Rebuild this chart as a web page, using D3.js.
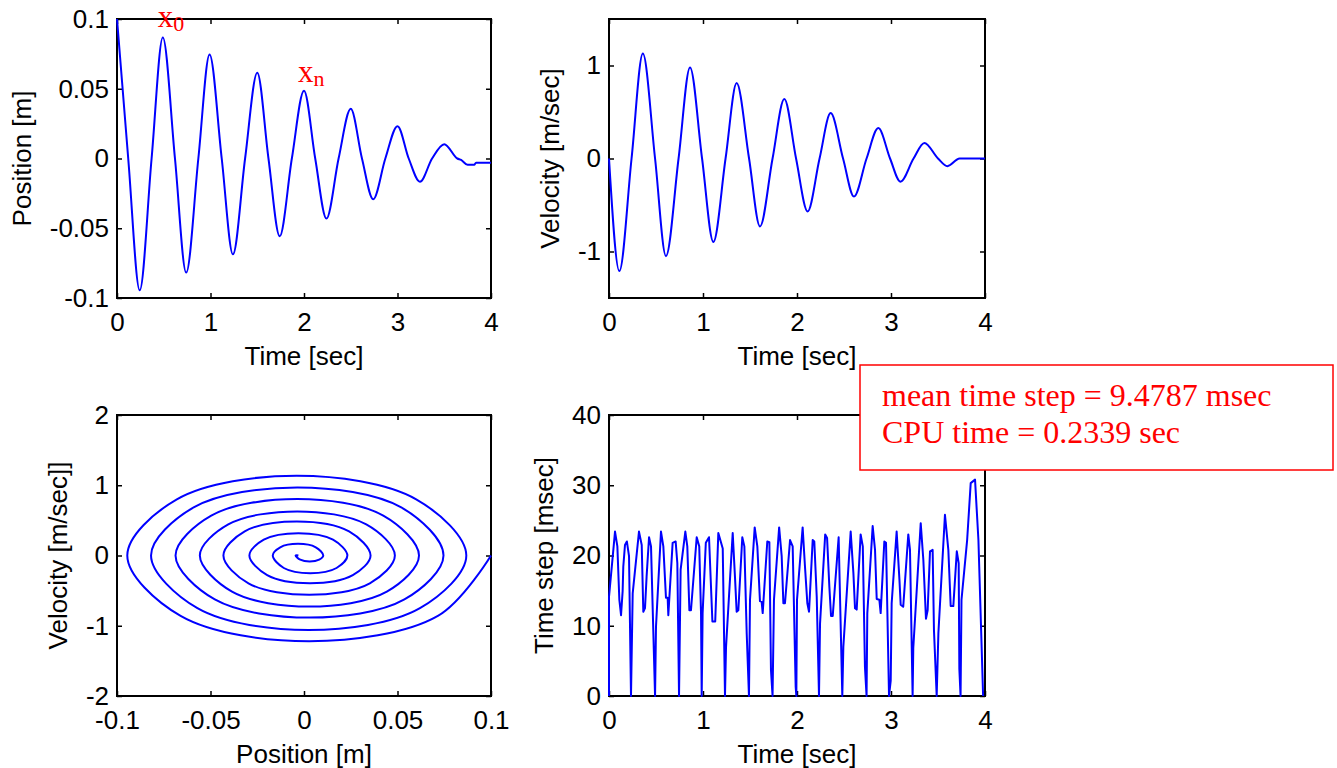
<!DOCTYPE html>
<html>
<head>
<meta charset="utf-8">
<script src="https://cdn.jsdelivr.net/npm/d3@7"></script>
<style>
  body { margin: 0; background: #fff; }
  .tick text { font-family: "Liberation Sans", Arial, sans-serif; font-size: 26px; fill: #000; }
  .tick line { stroke: #000; stroke-width: 1.5; }
  .title { font-family: "Liberation Sans", Arial, sans-serif; font-size: 26px; fill: #000; }
  .note { font-family: "Liberation Serif", "Times New Roman", serif; fill: #f00; }
</style>
</head>
<body>
<div id="chart"></div>
<script>
// position vs time (extrema and zero crossings)
var posTime = [0, 0.12, 0.243, 0.37, 0.49, 0.62, 0.74, 0.87, 0.99, 1.12, 1.24, 1.37, 1.5, 1.62, 1.74, 1.87,
  2.0, 2.12, 2.24, 2.37, 2.5, 2.62, 2.74, 2.87, 3.0, 3.12, 3.24, 3.37, 3.5, 3.64, 3.68, 3.75, 3.82, 3.84, 4.0];
var posVal = [0.1, 0, -0.0945, 0, 0.0868, 0, -0.0818, 0, 0.0746, 0, -0.0687, 0, 0.0615, 0, -0.0557, 0,
  0.0486, 0, -0.0431, 0, 0.0356, 0, -0.0292, 0, 0.0232, 0, -0.0167, 0, 0.0103, 0, -0.001, -0.0045, -0.0045, -0.003, -0.003];

// velocity vs time
var velTime = [0, 0.11, 0.24, 0.36, 0.49, 0.606, 0.74, 0.862, 0.99, 1.11, 1.24, 1.358, 1.49, 1.606, 1.74, 1.865,
  1.99, 2.113, 2.24, 2.358, 2.49, 2.606, 2.74, 2.865, 2.99, 3.10, 3.24, 3.355, 3.5, 3.60, 3.73, 4.0];
var velVal = [0, -1.21, 0, 1.128, 0, -1.05, 0, 0.979, 0, -0.897, 0, 0.811, 0, -0.73, 0, 0.64,
  0, -0.569, 0, 0.488, 0, -0.409, 0, 0.327, 0, -0.249, 0, 0.167, 0, -0.082, 0, 0];

// phase plane spiral (position, velocity)
var phasePos = [0.1, 0.0716, 0.0028, -0.066, -0.0945, -0.068, -0.0039, 0.060, 0.0868,
  0.062, 0.0025, -0.057, -0.0818, -0.059, -0.0036, 0.052, 0.0746,
  0.0537, 0.003, -0.0477, -0.0687, -0.0496, -0.0036, 0.0424, 0.0615,
  0.0443, 0.0029, -0.0385, -0.0557, -0.0405, -0.0036, 0.0333, 0.0486,
  0.0352, 0.0028, -0.0297, -0.0431, -0.0317, -0.0038, 0.0241, 0.0356,
  0.0261, 0.0032, -0.0197, -0.0292, -0.0215, -0.003, 0.0155, 0.0232,
  0.0174, 0.0033, -0.0108, -0.0167, -0.0127, -0.0032, 0.0063, 0.0103,
  0.0081, 0.003, -0.002, -0.0045, -0.003];
var phaseVel = [0, -0.86, -1.22, -0.86, 0, 0.80, 1.135, 0.80, 0,
  -0.75, -1.06, -0.75, 0, 0.685, 0.969, 0.685, 0,
  -0.625, -0.884, -0.625, 0, 0.568, 0.803, 0.568, 0,
  -0.514, -0.727, -0.514, 0, 0.443, 0.627, 0.443, 0,
  -0.396, -0.56, -0.396, 0, 0.343, 0.485, 0.343, 0,
  -0.279, -0.394, -0.279, 0, 0.225, 0.318, 0.225, 0,
  -0.178, -0.252, -0.178, 0, 0.117, 0.166, 0.117, 0,
  -0.06, -0.086, -0.06, 0, 0];

// solver time step vs time
var stepTime = [0, 0, 0.064, 0.089, 0.11, 0.128, 0.145, 0.152, 0.17, 0.19,
  0.213, 0.234, 0.252, 0.319, 0.348, 0.365, 0.383, 0.40, 0.426, 0.447,
  0.49, 0.50, 0.553, 0.578, 0.606, 0.624, 0.631, 0.677, 0.709, 0.727,
  0.745, 0.762, 0.812, 0.833, 0.855, 0.872, 0.933, 0.96, 0.979, 0.986,
  0.996, 1.03, 1.064, 1.10, 1.13, 1.163, 1.21, 1.234, 1.245, 1.316,
  1.34, 1.358, 1.376, 1.418, 1.44, 1.465, 1.489, 1.50, 1.55, 1.578,
  1.606, 1.624, 1.635, 1.684, 1.706, 1.723, 1.74, 1.755, 1.81, 1.837,
  1.855, 1.872, 1.926, 1.954, 1.986, 1.993, 2.0, 2.06, 2.085, 2.11,
  2.128, 2.167, 2.184, 2.21, 2.234, 2.245, 2.30, 2.32, 2.344, 2.362,
  2.38, 2.443, 2.482, 2.493, 2.571, 2.60, 2.617, 2.635, 2.677, 2.70,
  2.723, 2.74, 2.748, 2.805, 2.83, 2.848, 2.876, 2.89, 2.929, 2.947,
  2.979, 2.997, 3.007, 3.06, 3.09, 3.103, 3.13, 3.184, 3.202, 3.23,
  3.237, 3.316, 3.344, 3.372, 3.39, 3.415, 3.443, 3.457, 3.486, 3.504,
  3.574, 3.61, 3.635, 3.663, 3.70, 3.72, 3.727, 3.74, 3.75, 3.81,
  3.848, 3.894, 3.93, 3.98];
var stepMs = [0, 14.1, 23.4, 21.3, 13.7, 11.5, 14.9, 18.4, 21.5, 22,
  19.9, 0, 14.6, 23.4, 21.5, 12, 12.5, 17, 22.6, 21.3,
  0, 9.9, 23.4, 21.3, 14, 14, 11.5, 21.8, 22, 18.9,
  0, 18, 23.4, 21.3, 12.2, 12.2, 22.6, 21.3, 11.8, 0,
  11.8, 21.8, 22.6, 10.6, 10.6, 23.2, 21, 0, 7, 23.2,
  17, 12, 12.2, 22.6, 21.3, 8.9, 0, 13.7, 24, 21.3,
  13.5, 13.4, 11.8, 22, 21.9, 3.7, 0, 13.7, 24, 19.9,
  13.2, 13.2, 22.2, 21.3, 1.3, 0, 13.7, 24, 18.4, 13.2,
  12, 22.2, 22, 14.1, 0, 10.3, 23, 22.5, 15.6, 11.4,
  11.4, 22.6, 0, 7, 23.4, 17.5, 12.5, 12.3, 23, 21.3,
  4.1, 0, 11.8, 24.2, 20.8, 13.8, 13.7, 11.8, 22, 21.8,
  0, 2.2, 13.2, 23.4, 16.5, 13, 12.7, 23, 20.8, 0,
  6.8, 24.6, 19.4, 11, 12.2, 20.6, 20.8, 9.4, 0, 8.9,
  25.8, 20.8, 12.8, 12.8, 20.6, 18.9, 3.9, 0, 13.7, 22.2,
  30.3, 30.8, 22.2, 0];

var timeTicks = [0, 1, 2, 3, 4];
var posTicks = [-0.1, -0.05, 0, 0.05, 0.1];
var velTicks = [-1, 0, 1];
var phaseVelTicks = [-2, -1, 0, 1, 2];
var stepTicks = [0, 10, 20, 30, 40];

var peakLabels = [{t: 0.5, v: 0.087, sub: "0"}, {t: 2.0, v: 0.048, sub: "n"}];
var noteLines = ["mean time step = 9.4787 msec", "CPU time = 0.2339 sec"];

var svg = d3.select("#chart").append("svg").attr("width", 1337).attr("height", 768);
svg.append("rect").attr("width", 1337).attr("height", 768).attr("fill", "#fff");

// one MATLAB-like axes box with inward ticks on all four sides
function panel(o) {
  var x = d3.scaleLinear().domain(o.xd).range([o.left, o.right]);
  var y = d3.scaleLinear().domain(o.yd).range([o.bottom, o.top]);
  var fmt = function(d) { return String(d); };
  var g = svg.append("g");

  g.append("g").attr("transform", "translate(0," + o.bottom + ")")
    .call(d3.axisBottom(x).tickValues(o.xt).tickFormat(fmt).tickSize(-5).tickPadding(15));
  g.append("g").attr("transform", "translate(0," + o.top + ")")
    .call(d3.axisTop(x).tickValues(o.xt).tickFormat("").tickSize(-5));
  g.append("g").attr("transform", "translate(" + o.left + ",0)")
    .call(d3.axisLeft(y).tickValues(o.yt).tickFormat(fmt).tickSize(-5).tickPadding(8));
  g.append("g").attr("transform", "translate(" + o.right + ",0)")
    .call(d3.axisRight(y).tickValues(o.yt).tickFormat("").tickSize(-5));
  g.selectAll(".domain").remove();

  g.append("rect")
    .attr("x", o.left).attr("y", o.top)
    .attr("width", o.right - o.left).attr("height", o.bottom - o.top)
    .attr("fill", "none").attr("stroke", "#000").attr("stroke-width", 2);

  g.append("text").attr("class", "title")
    .attr("x", (o.left + o.right) / 2).attr("y", o.bottom + 67)
    .attr("text-anchor", "middle").text(o.xlabel);
  g.append("text").attr("class", "title")
    .attr("transform", "translate(" + o.ylx + "," + (o.top + o.bottom) / 2 + ") rotate(-90)")
    .attr("text-anchor", "middle").text(o.ylabel);

  var line = d3.line().x(function(d) { return x(d[0]); }).y(function(d) { return y(d[1]); })
    .curve(o.curve || d3.curveLinear);
  g.append("path").datum(d3.zip(o.xs, o.ys))
    .attr("d", line).attr("fill", "none")
    .attr("stroke", "#0000ff").attr("stroke-width", 2).attr("stroke-linejoin", "round");

  return {x: x, y: y, g: g};
}

var p1 = panel({left: 117, right: 491, top: 19, bottom: 298, xd: [0, 4], yd: [-0.1, 0.1],
  xt: timeTicks, yt: posTicks, xs: posTime, ys: posVal, curve: d3.curveMonotoneX,
  xlabel: "Time [sec]", ylabel: "Position [m]", ylx: 31});

panel({left: 609, right: 985, top: 19, bottom: 298, xd: [0, 4], yd: [-1.5, 1.5],
  xt: timeTicks, yt: velTicks, xs: velTime, ys: velVal, curve: d3.curveMonotoneX,
  xlabel: "Time [sec]", ylabel: "Velocity [m/sec]", ylx: 559});

panel({left: 117, right: 491, top: 415, bottom: 696, xd: [-0.1, 0.1], yd: [-2, 2],
  xt: posTicks, yt: phaseVelTicks, xs: phasePos, ys: phaseVel, curve: d3.curveCatmullRom.alpha(0.5),
  xlabel: "Position [m]", ylabel: "Velocity [m/sec]]", ylx: 67});

panel({left: 609, right: 985, top: 415, bottom: 696, xd: [0, 4], yd: [0, 40],
  xt: timeTicks, yt: stepTicks, xs: stepTime, ys: stepMs,
  xlabel: "Time [sec]", ylabel: "Time step [msec]", ylx: 553});

// x0 / xn peak markers
peakLabels.forEach(function(p) {
  var t = svg.append("text").attr("class", "note")
    .attr("x", p1.x(p.t) - 6).attr("y", p1.y(p.v) - 10).style("font-size", "31px");
  t.append("tspan").text("x");
  t.append("tspan").attr("dy", 4).style("font-size", "22px").text(p.sub);
});

// statistics box
var box = svg.append("g");
box.append("rect").attr("x", 860).attr("y", 365).attr("width", 473).attr("height", 105)
  .attr("fill", "#fff").attr("stroke", "#f00").attr("stroke-width", 1.5);
box.selectAll("text.stat").data(noteLines).enter().append("text")
  .attr("class", "note stat")
  .attr("x", 882).attr("y", function(d, i) { return 406 + i * 37; })
  .style("font-size", "32px")
  .text(function(d) { return d; });
</script>
</body>
</html>
